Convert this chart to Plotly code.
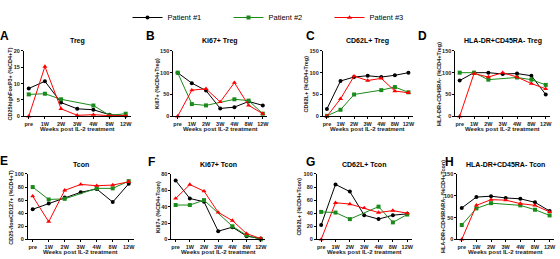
import plotly.graph_objects as go

weeks = ["pre", "1W", "2W", "3W", "4W", "8W", "12W"]
patients = ["Patient #1", "Patient #2", "Patient #3"]

# Panel A: Treg
a_p1 = [8.5, 10.7, 4.2, 2.3, 2.0, 0.5, 0.2]
a_p2 = [6.7, 6.9, 5.2, None, 3.3, 0.3, 0.8]
a_p3 = [0.0, 15.2, 2.3, 0.3, 0.5, 0.2, 0.2]
# Panel B: Ki67+ Treg
b_p1 = [100, 76, 59, 18, 21, 34, 25]
b_p2 = [100, 28, 25, None, 39, 36, 6]
b_p3 = [0, 60, 63, 33, 77, 25, 6]
# Panel C: CD62L+ Treg
c_p1 = [17, 81, 90, 93, 90, 94, 100]
c_p2 = [1, 15, 50, None, 60, 67, 55]
c_p3 = [0, 40, 92, 82, 87, 58, 54]
# Panel D: HLA-DR+CD45RA- Treg
d_p1 = [82, 100, 100, 97, 98, 93, 50]
d_p2 = [100, 100, 84, None, 89, 84, 72]
d_p3 = [0, 98, 90, 100, 90, 75, 63]
# Panel E: Tcon
e_p1 = [46, 55, 64, 72, 77, 57, 85]
e_p2 = [80, 61, 62, None, 78, 78, 89]
e_p3 = [66, 27, 75, 84, 82, 83, 88]
# Panel F: Ki67+ Tcon
f_p1 = [72, 50, 46, 10, 15, 4, 1]
f_p2 = [42, 42, 48, None, 16, 5, 0]
f_p3 = [50, 67, 59, 33, 23, 7, 1]
# Panel G: CD62L+ Tcon
g_p1 = [22, 84, 73, 37, 31, 37, 39]
g_p2 = [42, 41, 31, None, 50, 26, 38]
g_p3 = [0, 56, 54, 48, 41, 44, 40]
# Panel H: HLA-DR+CD45RA- Tcon
h_p1 = [72, 97, 99, 95, 93, 85, 65]
h_p2 = [33, 71, 83, None, 78, 68, 55]
h_p3 = [0, 78, 91, 90, 82, 78, 63]

letters = ["A", "B", "C", "D", "E", "F", "G", "H"]
titles = ["Treg", "Ki67+ Treg", "CD62L+ Treg", "HLA-DR+CD45RA- Treg",
          "Tcon", "Ki67+ Tcon", "CD62L+ Tcon", "HLA-DR+CD45RA- Tcon"]
ytitles = ["CD25highFoxP3+ (%CD4+T)", "Ki67+ (%CD4+Treg)", "CD62L+ (%CD4+Treg)",
           "HLA-DR+CD45RA- (%CD4+Treg)", "CD25-/lowCD127+ (%CD4+T)",
           "Ki67+ (%CD4+Tcon)", "CD62L+ (%CD4+Tcon)", "HLA-DR+CD45RARA- (%CD4+Tcon)"]
ymax = [20, 150, 150, 150, 100, 80, 100, 150]
ydtick = [5, 50, 50, 50, 20, 20, 20, 50]
xtitle = "Weeks post IL-2 treatment"
series = [(a_p1, a_p2, a_p3), (b_p1, b_p2, b_p3), (c_p1, c_p2, c_p3), (d_p1, d_p2, d_p3),
          (e_p1, e_p2, e_p3), (f_p1, f_p2, f_p3), (g_p1, g_p2, g_p3), (h_p1, h_p2, h_p3)]

W, H = 560, 259
colors = ["#000000", "#1a8a1a", "#ff0000"]
symbols = ["circle", "square", "triangle-up"]

# layout geometry in pixels
xdom_px = [(24, 131), (174, 268), (324, 414), (457, 552),
           (28, 134), (172, 266), (318, 413), (459, 556)]
ydom_px = [(49, 116)] * 4 + [(175, 242)] * 4
ytitle_x = [10, 157, 307, 440, 11, 158, 300, 444]
letter_pos = [(5, 34), (151, 34), (312, 34), (424, 34), (4, 162), (152, 163), (312, 163), (451, 163)]

fig = go.Figure()
layout = {}
annotations = []
font_family = "Liberation Sans, Arial, sans-serif"


def ann(text, px, py, size, color="black", angle=0):
    return dict(text=text, x=px / W, y=1 - py / H, xref="paper", yref="paper",
                xanchor="center", yanchor="middle", showarrow=False, textangle=angle,
                font=dict(size=size, family=font_family, color=color))


for i in range(8):
    n = "" if i == 0 else str(i + 1)
    xa, ya = "x" + n, "y" + n
    for k in range(3):
        fig.add_trace(go.Scatter(
            x=list(range(7)), y=series[i][k], xaxis=xa, yaxis=ya,
            mode="lines+markers", name=patients[k], legendgroup=patients[k],
            showlegend=(i == 0), connectgaps=True, cliponaxis=False,
            line=dict(color=colors[k], width=1),
            marker=dict(color=colors[k], symbol=symbols[k], size=4 if k < 2 else 4.5),
        ))
    x0, x1 = xdom_px[i]
    yt, yb = ydom_px[i]
    layout["xaxis" + n] = dict(
        domain=[x0 / W, x1 / W], anchor=ya, range=[-0.3, 6.3],
        tickvals=list(range(7)), ticktext=weeks, showgrid=False, zeroline=False,
        showline=True, linecolor="black", linewidth=1, ticks="outside", ticklen=2,
        tickcolor="black", tickfont=dict(size=5.5, color="#222", family=font_family, weight="bold"),
    )
    layout["yaxis" + n] = dict(
        domain=[1 - yb / H, 1 - yt / H], anchor=xa, range=[0, ymax[i]],
        dtick=ydtick[i], showgrid=False, zeroline=False,
        showline=True, linecolor="black", linewidth=1, ticks="outside", ticklen=2,
        tickcolor="black", tickfont=dict(size=5.5, color="#222", family=font_family, weight="bold"),
    )
    cx = (x0 + x1) / 2
    annotations.append(ann("<b>%s</b>" % titles[i], cx, yt - 10, 7))
    annotations.append(ann("<b>%s</b>" % xtitle, cx, yb + 13, 6, "#222"))
    annotations.append(ann("<b>%s</b>" % ytitles[i], ytitle_x[i], (yt + yb) / 2, 5.5, "#222", -90))
    lx, ly = letter_pos[i]
    annotations.append(ann("<b>%s</b>" % letters[i], lx, ly, 12))

fig.update_layout(
    width=W, height=H, margin=dict(l=0, r=0, t=0, b=0),
    paper_bgcolor="white", plot_bgcolor="white",
    showlegend=True,
    legend=dict(orientation="h", x=0.5, xanchor="center", y=1.0, yanchor="top",
                font=dict(size=7.5, family=font_family, color="black"),
                itemwidth=30, entrywidth=56, tracegroupgap=0, bgcolor="rgba(0,0,0,0)"),
    annotations=annotations,
    **layout,
)
fig.write_html("out.html")
